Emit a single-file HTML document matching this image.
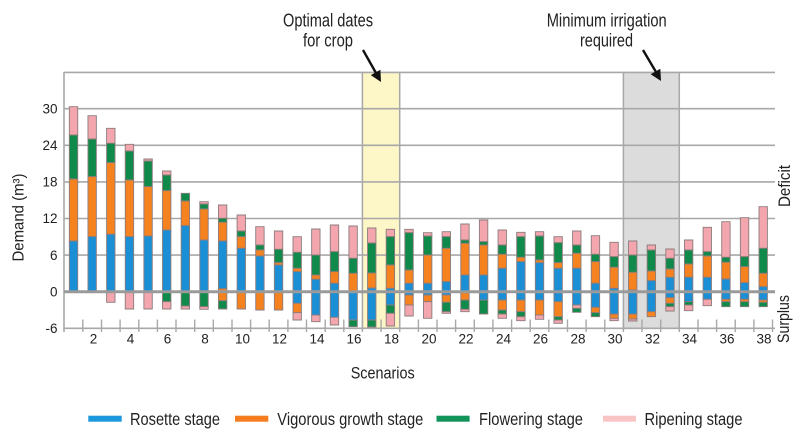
<!DOCTYPE html>
<html>
<head>
<meta charset="utf-8">
<style>
  html,body{margin:0;padding:0;background:#fff;}
  svg{display:block;}
  .P{fill:#f4a6ae;}
  .G{fill:#0f8a4a;}
  .O{fill:#f5821f;}
  .B{fill:#1b8fd6;}
  .bars rect{stroke:#8c7c7c;stroke-width:0.9;vector-effect:non-scaling-stroke;}
  text{font-family:"Liberation Sans", Arial, sans-serif;fill:#222;}
</style>
</head>
<body>
<svg width="806" height="434" viewBox="0 0 806 434" xmlns="http://www.w3.org/2000/svg">
  <rect x="0" y="0" width="806" height="434" fill="#fff"/>

  <!-- highlight bands -->
  <rect x="362.4" y="72.7" width="37.3" height="255.6" fill="#fdf6c6"/>
  <rect x="623.4" y="72.7" width="55.9" height="255.6" fill="#dcdcdc"/>
  <g stroke="#a8a8a8" stroke-width="1.5">
    <line x1="362.4" y1="72.7" x2="362.4" y2="330"/>
    <line x1="399.7" y1="72.7" x2="399.7" y2="330"/>
    <line x1="623.4" y1="72.7" x2="623.4" y2="330"/>
    <line x1="679.3" y1="72.7" x2="679.3" y2="330"/>
  </g>

  <!-- grid -->
  <g stroke="#a8a8a8" stroke-width="1.6">
    <line x1="64" y1="72.4" x2="775" y2="72.4"/>
    <line x1="64" y1="108.7" x2="775" y2="108.7"/>
    <line x1="64" y1="145.3" x2="775" y2="145.3"/>
    <line x1="64" y1="181.9" x2="775" y2="181.9"/>
    <line x1="64" y1="218.5" x2="775" y2="218.5"/>
    <line x1="64" y1="255.1" x2="775" y2="255.1"/>
    <line x1="64" y1="328.3" x2="775" y2="328.3"/>
    <line x1="64" y1="72" x2="64" y2="332"/>
  </g>
  <!-- ticks -->
  <g stroke="#a8a8a8" stroke-width="1.4">
    <line x1="82.8" y1="319.5" x2="82.8" y2="332"/>
    <line x1="101.5" y1="319.5" x2="101.5" y2="332"/>
    <line x1="120.1" y1="319.5" x2="120.1" y2="332"/>
    <line x1="138.8" y1="319.5" x2="138.8" y2="332"/>
    <line x1="157.4" y1="319.5" x2="157.4" y2="332"/>
    <line x1="176.0" y1="319.5" x2="176.0" y2="332"/>
    <line x1="194.7" y1="319.5" x2="194.7" y2="332"/>
    <line x1="213.3" y1="319.5" x2="213.3" y2="332"/>
    <line x1="232.0" y1="319.5" x2="232.0" y2="332"/>
    <line x1="250.6" y1="319.5" x2="250.6" y2="332"/>
    <line x1="269.2" y1="319.5" x2="269.2" y2="332"/>
    <line x1="287.9" y1="319.5" x2="287.9" y2="332"/>
    <line x1="306.5" y1="319.5" x2="306.5" y2="332"/>
    <line x1="325.2" y1="319.5" x2="325.2" y2="332"/>
    <line x1="343.8" y1="319.5" x2="343.8" y2="332"/>
    <line x1="362.4" y1="319.5" x2="362.4" y2="332"/>
    <line x1="381.1" y1="319.5" x2="381.1" y2="332"/>
    <line x1="399.7" y1="319.5" x2="399.7" y2="332"/>
    <line x1="418.4" y1="319.5" x2="418.4" y2="332"/>
    <line x1="437.0" y1="319.5" x2="437.0" y2="332"/>
    <line x1="455.6" y1="319.5" x2="455.6" y2="332"/>
    <line x1="474.3" y1="319.5" x2="474.3" y2="332"/>
    <line x1="492.9" y1="319.5" x2="492.9" y2="332"/>
    <line x1="511.6" y1="319.5" x2="511.6" y2="332"/>
    <line x1="530.2" y1="319.5" x2="530.2" y2="332"/>
    <line x1="548.8" y1="319.5" x2="548.8" y2="332"/>
    <line x1="567.5" y1="319.5" x2="567.5" y2="332"/>
    <line x1="586.1" y1="319.5" x2="586.1" y2="332"/>
    <line x1="604.8" y1="319.5" x2="604.8" y2="332"/>
    <line x1="623.4" y1="319.5" x2="623.4" y2="332"/>
    <line x1="642.0" y1="319.5" x2="642.0" y2="332"/>
    <line x1="660.7" y1="319.5" x2="660.7" y2="332"/>
    <line x1="679.3" y1="319.5" x2="679.3" y2="332"/>
    <line x1="698.0" y1="319.5" x2="698.0" y2="332"/>
    <line x1="716.6" y1="319.5" x2="716.6" y2="332"/>
    <line x1="735.2" y1="319.5" x2="735.2" y2="332"/>
    <line x1="753.9" y1="319.5" x2="753.9" y2="332"/>
    <line x1="772.5" y1="319.5" x2="772.5" y2="332"/>
  </g>

  <!-- bars (y in 1/3 px units, offset 60) -->
  <g class="bars">
    <g transform="translate(73.52,60) scale(1,0.333333)">
      <rect class="P" x="-4.2" width="8.4" y="140" height="85"/><rect class="G" x="-4.2" width="8.4" y="225" height="132"/><rect class="O" x="-4.2" width="8.4" y="357" height="186"/><rect class="B" x="-4.2" width="8.4" y="543" height="152"/>
    </g>
    <g transform="translate(92.16,60) scale(1,0.333333)">
      <rect class="P" x="-4.2" width="8.4" y="167" height="70"/><rect class="G" x="-4.2" width="8.4" y="237" height="113"/><rect class="O" x="-4.2" width="8.4" y="350" height="180"/><rect class="B" x="-4.2" width="8.4" y="530" height="165"/>
    </g>
    <g transform="translate(110.8,60) scale(1,0.333333)">
      <rect class="P" x="-4.2" width="8.4" y="205" height="45"/><rect class="G" x="-4.2" width="8.4" y="250" height="58"/><rect class="O" x="-4.2" width="8.4" y="308" height="215"/><rect class="B" x="-4.2" width="8.4" y="523" height="172"/><rect class="P" x="-4.2" width="8.4" y="695" height="32"/>
    </g>
    <g transform="translate(129.44,60) scale(1,0.333333)">
      <rect class="P" x="-4.2" width="8.4" y="253" height="20"/><rect class="G" x="-4.2" width="8.4" y="273" height="87"/><rect class="O" x="-4.2" width="8.4" y="360" height="170"/><rect class="B" x="-4.2" width="8.4" y="530" height="165"/><rect class="P" x="-4.2" width="8.4" y="695" height="52"/>
    </g>
    <g transform="translate(148.08,60) scale(1,0.333333)">
      <rect class="P" x="-4.2" width="8.4" y="297" height="6"/><rect class="G" x="-4.2" width="8.4" y="303" height="77"/><rect class="O" x="-4.2" width="8.4" y="380" height="148"/><rect class="B" x="-4.2" width="8.4" y="528" height="167"/><rect class="P" x="-4.2" width="8.4" y="695" height="52"/>
    </g>
    <g transform="translate(166.72,60) scale(1,0.333333)">
      <rect class="P" x="-4.2" width="8.4" y="333" height="12"/><rect class="G" x="-4.2" width="8.4" y="345" height="47"/><rect class="O" x="-4.2" width="8.4" y="392" height="118"/><rect class="B" x="-4.2" width="8.4" y="510" height="185"/><rect class="G" x="-4.2" width="8.4" y="695" height="30"/><rect class="P" x="-4.2" width="8.4" y="725" height="22"/>
    </g>
    <g transform="translate(185.36,60) scale(1,0.333333)">
      <rect class="G" x="-4.2" width="8.4" y="400" height="23"/><rect class="O" x="-4.2" width="8.4" y="423" height="74"/><rect class="B" x="-4.2" width="8.4" y="497" height="198"/><rect class="G" x="-4.2" width="8.4" y="695" height="43"/><rect class="P" x="-4.2" width="8.4" y="738" height="9"/>
    </g>
    <g transform="translate(204.0,60) scale(1,0.333333)">
      <rect class="P" x="-4.2" width="8.4" y="425" height="7"/><rect class="G" x="-4.2" width="8.4" y="432" height="15"/><rect class="O" x="-4.2" width="8.4" y="447" height="93"/><rect class="B" x="-4.2" width="8.4" y="540" height="155"/><rect class="G" x="-4.2" width="8.4" y="695" height="45"/><rect class="P" x="-4.2" width="8.4" y="740" height="8"/>
    </g>
    <g transform="translate(222.64,60) scale(1,0.333333)">
      <rect class="P" x="-4.2" width="8.4" y="435" height="40"/><rect class="G" x="-4.2" width="8.4" y="475" height="12"/><rect class="O" x="-4.2" width="8.4" y="487" height="56"/><rect class="B" x="-4.2" width="8.4" y="543" height="143"/><rect class="O" x="-4.2" width="8.4" y="686" height="36"/><rect class="G" x="-4.2" width="8.4" y="722" height="25"/>
    </g>
    <g transform="translate(241.28,60) scale(1,0.333333)">
      <rect class="P" x="-4.2" width="8.4" y="465" height="48"/><rect class="G" x="-4.2" width="8.4" y="513" height="17"/><rect class="O" x="-4.2" width="8.4" y="530" height="35"/><rect class="B" x="-4.2" width="8.4" y="565" height="130"/><rect class="O" x="-4.2" width="8.4" y="695" height="52"/>
    </g>
    <g transform="translate(259.92,60) scale(1,0.333333)">
      <rect class="P" x="-4.2" width="8.4" y="500" height="55"/><rect class="G" x="-4.2" width="8.4" y="555" height="15"/><rect class="O" x="-4.2" width="8.4" y="570" height="18"/><rect class="B" x="-4.2" width="8.4" y="588" height="107"/><rect class="O" x="-4.2" width="8.4" y="695" height="55"/>
    </g>
    <g transform="translate(278.56,60) scale(1,0.333333)">
      <rect class="P" x="-4.2" width="8.4" y="513" height="55"/><rect class="G" x="-4.2" width="8.4" y="568" height="40"/><rect class="O" x="-4.2" width="8.4" y="608" height="7"/><rect class="B" x="-4.2" width="8.4" y="615" height="80"/><rect class="O" x="-4.2" width="8.4" y="695" height="55"/>
    </g>
    <g transform="translate(297.2,60) scale(1,0.333333)">
      <rect class="P" x="-4.2" width="8.4" y="530" height="47"/><rect class="G" x="-4.2" width="8.4" y="577" height="48"/><rect class="O" x="-4.2" width="8.4" y="625" height="10"/><rect class="B" x="-4.2" width="8.4" y="635" height="95"/><rect class="O" x="-4.2" width="8.4" y="730" height="28"/><rect class="P" x="-4.2" width="8.4" y="758" height="22"/>
    </g>
    <g transform="translate(315.84,60) scale(1,0.333333)">
      <rect class="P" x="-4.2" width="8.4" y="507" height="78"/><rect class="G" x="-4.2" width="8.4" y="585" height="60"/><rect class="O" x="-4.2" width="8.4" y="645" height="13"/><rect class="B" x="-4.2" width="8.4" y="658" height="107"/><rect class="P" x="-4.2" width="8.4" y="765" height="20"/>
    </g>
    <g transform="translate(334.48,60) scale(1,0.333333)">
      <rect class="P" x="-4.2" width="8.4" y="495" height="80"/><rect class="G" x="-4.2" width="8.4" y="575" height="60"/><rect class="O" x="-4.2" width="8.4" y="635" height="35"/><rect class="B" x="-4.2" width="8.4" y="670" height="102"/><rect class="P" x="-4.2" width="8.4" y="772" height="23"/>
    </g>
    <g transform="translate(353.12,60) scale(1,0.333333)">
      <rect class="P" x="-4.2" width="8.4" y="498" height="97"/><rect class="G" x="-4.2" width="8.4" y="595" height="45"/><rect class="O" x="-4.2" width="8.4" y="640" height="55"/><rect class="B" x="-4.2" width="8.4" y="695" height="85"/><rect class="G" x="-4.2" width="8.4" y="780" height="20"/>
    </g>
    <g transform="translate(371.76,60) scale(1,0.333333)">
      <rect class="P" x="-4.2" width="8.4" y="504" height="45"/><rect class="G" x="-4.2" width="8.4" y="549" height="90"/><rect class="O" x="-4.2" width="8.4" y="639" height="45"/><rect class="B" x="-4.2" width="8.4" y="684" height="96"/><rect class="G" x="-4.2" width="8.4" y="780" height="21"/>
    </g>
    <g transform="translate(390.4,60) scale(1,0.333333)">
      <rect class="P" x="-4.2" width="8.4" y="508" height="22"/><rect class="G" x="-4.2" width="8.4" y="530" height="85"/><rect class="O" x="-4.2" width="8.4" y="615" height="70"/><rect class="B" x="-4.2" width="8.4" y="685" height="50"/><rect class="G" x="-4.2" width="8.4" y="735" height="25"/><rect class="P" x="-4.2" width="8.4" y="760" height="38"/>
    </g>
    <g transform="translate(409.04,60) scale(1,0.333333)">
      <rect class="P" x="-4.2" width="8.4" y="508" height="10"/><rect class="G" x="-4.2" width="8.4" y="518" height="112"/><rect class="O" x="-4.2" width="8.4" y="630" height="40"/><rect class="B" x="-4.2" width="8.4" y="670" height="35"/><rect class="O" x="-4.2" width="8.4" y="705" height="30"/><rect class="P" x="-4.2" width="8.4" y="735" height="33"/>
    </g>
    <g transform="translate(427.68,60) scale(1,0.333333)">
      <rect class="P" x="-4.2" width="8.4" y="518" height="10"/><rect class="G" x="-4.2" width="8.4" y="528" height="57"/><rect class="O" x="-4.2" width="8.4" y="585" height="85"/><rect class="B" x="-4.2" width="8.4" y="670" height="35"/><rect class="O" x="-4.2" width="8.4" y="705" height="20"/><rect class="P" x="-4.2" width="8.4" y="725" height="50"/>
    </g>
    <g transform="translate(446.32,60) scale(1,0.333333)">
      <rect class="P" x="-4.2" width="8.4" y="515" height="15"/><rect class="G" x="-4.2" width="8.4" y="530" height="35"/><rect class="O" x="-4.2" width="8.4" y="565" height="100"/><rect class="B" x="-4.2" width="8.4" y="665" height="40"/><rect class="O" x="-4.2" width="8.4" y="705" height="22"/><rect class="G" x="-4.2" width="8.4" y="727" height="28"/><rect class="P" x="-4.2" width="8.4" y="755" height="5"/>
    </g>
    <g transform="translate(464.96,60) scale(1,0.333333)">
      <rect class="P" x="-4.2" width="8.4" y="492" height="48"/><rect class="G" x="-4.2" width="8.4" y="540" height="10"/><rect class="O" x="-4.2" width="8.4" y="550" height="95"/><rect class="B" x="-4.2" width="8.4" y="645" height="50"/><rect class="O" x="-4.2" width="8.4" y="695" height="25"/><rect class="G" x="-4.2" width="8.4" y="720" height="28"/><rect class="P" x="-4.2" width="8.4" y="748" height="7"/>
    </g>
    <g transform="translate(483.6,60) scale(1,0.333333)">
      <rect class="P" x="-4.2" width="8.4" y="480" height="65"/><rect class="G" x="-4.2" width="8.4" y="545" height="10"/><rect class="O" x="-4.2" width="8.4" y="555" height="90"/><rect class="B" x="-4.2" width="8.4" y="645" height="75"/><rect class="G" x="-4.2" width="8.4" y="720" height="42"/>
    </g>
    <g transform="translate(502.24,60) scale(1,0.333333)">
      <rect class="P" x="-4.2" width="8.4" y="510" height="45"/><rect class="G" x="-4.2" width="8.4" y="555" height="28"/><rect class="O" x="-4.2" width="8.4" y="583" height="42"/><rect class="B" x="-4.2" width="8.4" y="625" height="95"/><rect class="O" x="-4.2" width="8.4" y="720" height="30"/><rect class="G" x="-4.2" width="8.4" y="750" height="12"/><rect class="P" x="-4.2" width="8.4" y="762" height="13"/>
    </g>
    <g transform="translate(520.88,60) scale(1,0.333333)">
      <rect class="P" x="-4.2" width="8.4" y="517" height="13"/><rect class="G" x="-4.2" width="8.4" y="530" height="62"/><rect class="O" x="-4.2" width="8.4" y="592" height="13"/><rect class="B" x="-4.2" width="8.4" y="605" height="115"/><rect class="O" x="-4.2" width="8.4" y="720" height="35"/><rect class="G" x="-4.2" width="8.4" y="755" height="15"/><rect class="P" x="-4.2" width="8.4" y="770" height="12"/>
    </g>
    <g transform="translate(539.52,60) scale(1,0.333333)">
      <rect class="P" x="-4.2" width="8.4" y="515" height="13"/><rect class="G" x="-4.2" width="8.4" y="528" height="72"/><rect class="O" x="-4.2" width="8.4" y="600" height="8"/><rect class="B" x="-4.2" width="8.4" y="608" height="112"/><rect class="O" x="-4.2" width="8.4" y="720" height="45"/><rect class="P" x="-4.2" width="8.4" y="765" height="13"/>
    </g>
    <g transform="translate(558.16,60) scale(1,0.333333)">
      <rect class="P" x="-4.2" width="8.4" y="530" height="18"/><rect class="G" x="-4.2" width="8.4" y="548" height="60"/><rect class="O" x="-4.2" width="8.4" y="608" height="17"/><rect class="B" x="-4.2" width="8.4" y="625" height="100"/><rect class="O" x="-4.2" width="8.4" y="725" height="45"/><rect class="G" x="-4.2" width="8.4" y="770" height="10"/><rect class="P" x="-4.2" width="8.4" y="780" height="10"/>
    </g>
    <g transform="translate(576.8,60) scale(1,0.333333)">
      <rect class="P" x="-4.2" width="8.4" y="513" height="42"/><rect class="G" x="-4.2" width="8.4" y="555" height="25"/><rect class="O" x="-4.2" width="8.4" y="580" height="45"/><rect class="B" x="-4.2" width="8.4" y="625" height="110"/><rect class="P" x="-4.2" width="8.4" y="735" height="10"/><rect class="G" x="-4.2" width="8.4" y="745" height="12"/>
    </g>
    <g transform="translate(595.44,60) scale(1,0.333333)">
      <rect class="P" x="-4.2" width="8.4" y="527" height="56"/><rect class="G" x="-4.2" width="8.4" y="583" height="22"/><rect class="O" x="-4.2" width="8.4" y="605" height="65"/><rect class="B" x="-4.2" width="8.4" y="670" height="72"/><rect class="O" x="-4.2" width="8.4" y="742" height="16"/><rect class="G" x="-4.2" width="8.4" y="758" height="12"/>
    </g>
    <g transform="translate(614.08,60) scale(1,0.333333)">
      <rect class="P" x="-4.2" width="8.4" y="547" height="43"/><rect class="G" x="-4.2" width="8.4" y="590" height="32"/><rect class="O" x="-4.2" width="8.4" y="622" height="63"/><rect class="B" x="-4.2" width="8.4" y="685" height="77"/><rect class="O" x="-4.2" width="8.4" y="762" height="13"/><rect class="P" x="-4.2" width="8.4" y="775" height="7"/>
    </g>
    <g transform="translate(632.72,60) scale(1,0.333333)">
      <rect class="P" x="-4.2" width="8.4" y="543" height="42"/><rect class="G" x="-4.2" width="8.4" y="585" height="52"/><rect class="O" x="-4.2" width="8.4" y="637" height="53"/><rect class="B" x="-4.2" width="8.4" y="690" height="72"/><rect class="O" x="-4.2" width="8.4" y="762" height="15"/><rect class="P" x="-4.2" width="8.4" y="777" height="6"/>
    </g>
    <g transform="translate(651.36,60) scale(1,0.333333)">
      <rect class="P" x="-4.2" width="8.4" y="555" height="15"/><rect class="G" x="-4.2" width="8.4" y="570" height="63"/><rect class="O" x="-4.2" width="8.4" y="633" height="29"/><rect class="B" x="-4.2" width="8.4" y="662" height="93"/><rect class="O" x="-4.2" width="8.4" y="755" height="15"/>
    </g>
    <g transform="translate(670.0,60) scale(1,0.333333)">
      <rect class="P" x="-4.2" width="8.4" y="567" height="28"/><rect class="G" x="-4.2" width="8.4" y="595" height="32"/><rect class="O" x="-4.2" width="8.4" y="627" height="25"/><rect class="B" x="-4.2" width="8.4" y="652" height="61"/><rect class="O" x="-4.2" width="8.4" y="713" height="17"/><rect class="G" x="-4.2" width="8.4" y="730" height="10"/><rect class="P" x="-4.2" width="8.4" y="740" height="13"/>
    </g>
    <g transform="translate(688.64,60) scale(1,0.333333)">
      <rect class="P" x="-4.2" width="8.4" y="540" height="30"/><rect class="G" x="-4.2" width="8.4" y="570" height="42"/><rect class="O" x="-4.2" width="8.4" y="612" height="40"/><rect class="B" x="-4.2" width="8.4" y="652" height="73"/><rect class="G" x="-4.2" width="8.4" y="725" height="10"/><rect class="P" x="-4.2" width="8.4" y="735" height="17"/>
    </g>
    <g transform="translate(707.28,60) scale(1,0.333333)">
      <rect class="P" x="-4.2" width="8.4" y="502" height="73"/><rect class="G" x="-4.2" width="8.4" y="575" height="13"/><rect class="O" x="-4.2" width="8.4" y="588" height="64"/><rect class="B" x="-4.2" width="8.4" y="652" height="66"/><rect class="P" x="-4.2" width="8.4" y="718" height="19"/>
    </g>
    <g transform="translate(725.92,60) scale(1,0.333333)">
      <rect class="P" x="-4.2" width="8.4" y="485" height="107"/><rect class="G" x="-4.2" width="8.4" y="592" height="15"/><rect class="O" x="-4.2" width="8.4" y="607" height="50"/><rect class="B" x="-4.2" width="8.4" y="657" height="61"/><rect class="O" x="-4.2" width="8.4" y="718" height="7"/><rect class="G" x="-4.2" width="8.4" y="725" height="15"/>
    </g>
    <g transform="translate(744.56,60) scale(1,0.333333)">
      <rect class="P" x="-4.2" width="8.4" y="473" height="117"/><rect class="G" x="-4.2" width="8.4" y="590" height="30"/><rect class="O" x="-4.2" width="8.4" y="620" height="48"/><rect class="B" x="-4.2" width="8.4" y="668" height="50"/><rect class="O" x="-4.2" width="8.4" y="718" height="7"/><rect class="G" x="-4.2" width="8.4" y="725" height="15"/>
    </g>
    <g transform="translate(763.2,60) scale(1,0.333333)">
      <rect class="P" x="-4.2" width="8.4" y="440" height="125"/><rect class="G" x="-4.2" width="8.4" y="565" height="75"/><rect class="O" x="-4.2" width="8.4" y="640" height="40"/><rect class="B" x="-4.2" width="8.4" y="680" height="40"/><rect class="O" x="-4.2" width="8.4" y="720" height="7"/><rect class="G" x="-4.2" width="8.4" y="727" height="13"/>
    </g>
  </g>

  <!-- zero line over bars -->
  <line x1="64" y1="291.7" x2="775" y2="291.7" stroke="#9a9a9a" stroke-width="3"/>

  <!-- y tick labels -->
  <g font-size="13.5" text-anchor="end">
    <text x="57.5" y="113.5">30</text>
    <text x="57.5" y="150">24</text>
    <text x="57.5" y="186.5">18</text>
    <text x="57.5" y="223">12</text>
    <text x="57.5" y="260">6</text>
    <text x="57.5" y="296.5">0</text>
    <text x="57.5" y="333">-6</text>
  </g>

  <!-- x tick labels -->
  <g font-size="13.5" text-anchor="middle">
    <text x="93.5" y="343.5">2</text>
    <text x="130.5" y="343.5">4</text>
    <text x="167.5" y="343.5">6</text>
    <text x="205" y="343.5">8</text>
    <text x="242.5" y="343.5">10</text>
    <text x="279.5" y="343.5">12</text>
    <text x="317" y="343.5">14</text>
    <text x="354" y="343.5">16</text>
    <text x="391.5" y="343.5">18</text>
    <text x="429" y="343.5">20</text>
    <text x="466" y="343.5">22</text>
    <text x="503.5" y="343.5">24</text>
    <text x="540.5" y="343.5">26</text>
    <text x="578" y="343.5">28</text>
    <text x="615" y="343.5">30</text>
    <text x="652.5" y="343.5">32</text>
    <text x="689.5" y="343.5">34</text>
    <text x="727" y="343.5">36</text>
    <text x="764" y="343.5">38</text>
  </g>

  <!-- axis titles -->
  <text transform="translate(23.5,217.5) rotate(-90)" font-size="15.5" text-anchor="middle" textLength="88" lengthAdjust="spacingAndGlyphs">Demand (m³)</text>
  <text x="350.7" y="378.3" font-size="16.5" textLength="64" lengthAdjust="spacingAndGlyphs">Scenarios</text>
  <text transform="translate(790,186) rotate(-90)" font-size="17" text-anchor="middle" textLength="42" lengthAdjust="spacingAndGlyphs">Deficit</text>
  <text transform="translate(789,319) rotate(-90)" font-size="17" text-anchor="middle" textLength="48" lengthAdjust="spacingAndGlyphs">Surplus</text>

  <!-- annotations -->
  <text x="283" y="26.7" font-size="18" textLength="90" lengthAdjust="spacingAndGlyphs">Optimal dates</text>
  <text x="303" y="46.3" font-size="18" textLength="50" lengthAdjust="spacingAndGlyphs">for crop</text>
  <text x="546.7" y="26.7" font-size="18" textLength="120" lengthAdjust="spacingAndGlyphs">Minimum irrigation</text>
  <text x="580" y="46.3" font-size="18" textLength="53" lengthAdjust="spacingAndGlyphs">required</text>

  <g stroke="#111" stroke-width="2.4" fill="#111">
    <line x1="363" y1="50" x2="376" y2="73"/>
    <line x1="643" y1="50" x2="656" y2="72"/>
  </g>
  <polygon points="381,82 370.8,75.1 380.4,69.7" fill="#111"/>
  <polygon points="661,81 650.7,74.3 660.3,68.7" fill="#111"/>

  <!-- legend -->
  <rect x="88.3" y="415.7" width="33.4" height="6" fill="#1c98dc"/>
  <text x="130" y="425" font-size="17.5" textLength="90" lengthAdjust="spacingAndGlyphs">Rosette stage</text>
  <rect x="235" y="415.7" width="33.3" height="6" fill="#f57c1f"/>
  <text x="277.3" y="425" font-size="17.5" textLength="146" lengthAdjust="spacingAndGlyphs">Vigorous growth stage</text>
  <rect x="436.5" y="415.7" width="33.1" height="6" fill="#11935a"/>
  <text x="479" y="425" font-size="17.5" textLength="104" lengthAdjust="spacingAndGlyphs">Flowering stage</text>
  <rect x="603" y="415.7" width="33" height="6" fill="#f8c4c4"/>
  <text x="644.5" y="425" font-size="17.5" textLength="98" lengthAdjust="spacingAndGlyphs">Ripening stage</text>
</svg>
</body>
</html>
